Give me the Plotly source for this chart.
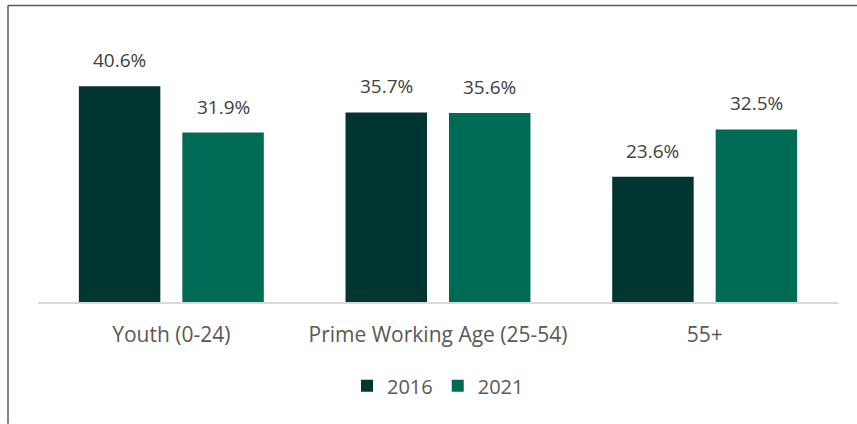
import plotly.graph_objects as go

categories = ["Youth (0-24)", "Prime Working Age (25-54)", "55+"]
years = ["2016", "2021"]
values_2016 = [40.6, 35.7, 23.6]
values_2021 = [31.9, 35.6, 32.5]
colors = ["#003530", "#006B54"]

series = [values_2016, values_2021]

L, R, T, B = 38, 19, 62.6, 122
W, H = 857, 424
pw = W - L - R
ph = H - T - B

fig = go.Figure()
for name, vals, col in zip(years, series, colors):
    fig.add_trace(go.Bar(x=categories, y=vals, name=name, marker=dict(color=col, line=dict(width=0))))

slot = pw / 3 * (1 - 0.224) / 2
annotations = []
for i, vals in enumerate(series):
    shift = (i - 0.5) * slot
    for c, v in zip(categories, vals):
        annotations.append(dict(x=c, y=v, xref="x", yref="y", text=f"{v:.1f}%", showarrow=False,
                                xshift=shift, yshift=26, font=dict(size=19, color="#404040")))

def px_x(x):
    return (x - L) / pw

def px_y(y):
    return (H - B - y) / ph

shapes = [
    dict(type="line", xref="paper", yref="paper", x0=px_x(8), x1=px_x(857), y0=px_y(5), y1=px_y(5),
         line=dict(color="#595959", width=1.5)),
    dict(type="line", xref="paper", yref="paper", x0=px_x(8), x1=px_x(8), y0=px_y(5), y1=px_y(424),
         line=dict(color="#595959", width=1.5)),
]

fig.update_layout(
    width=W, height=H,
    margin=dict(l=L, r=R, t=T, b=B),
    paper_bgcolor="white", plot_bgcolor="white",
    barmode="group", bargap=0.224, bargroupgap=0.2126,
    font=dict(family="Open Sans", color="#595959"),
    xaxis=dict(showline=True, linecolor="#D9D9D9", linewidth=1.5, ticks="outside", ticklen=13,
               tickcolor="rgba(0,0,0,0)", tickfont=dict(size=21, color="#595959")),
    yaxis=dict(range=[0, 45], showgrid=False, showticklabels=False, zeroline=False),
    legend=dict(orientation="h", x=0.5, xanchor="center", y=px_y(386), yanchor="middle",
                font=dict(size=20, color="#595959"), itemwidth=30, traceorder="normal"),
    annotations=annotations,
    shapes=shapes,
)

fig.write_html("out.html")
